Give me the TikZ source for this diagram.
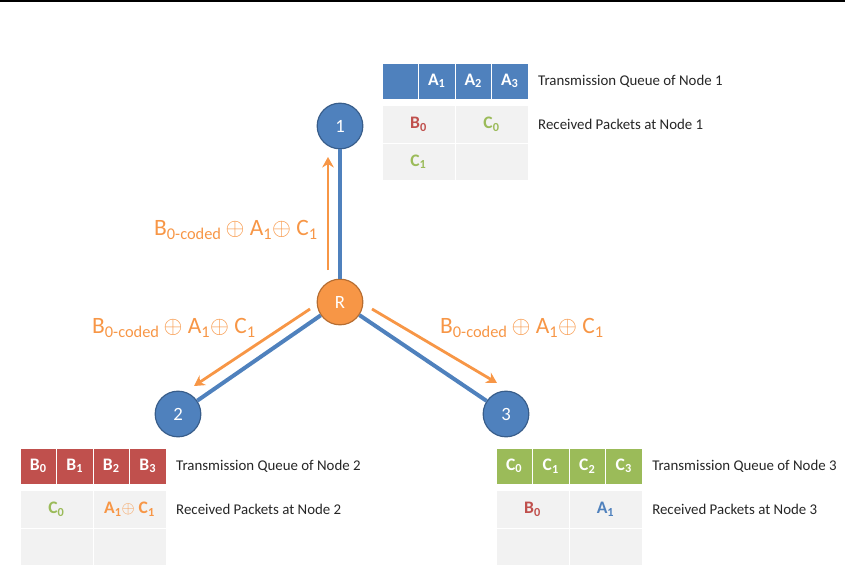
\documentclass[tikz,border=0pt]{standalone}
\usepackage{fontspec}
\setsansfont{Carlito}
\usetikzlibrary{
  positioning,
  arrows.meta
}

\definecolor{nodeblue}{RGB}{79,129,189}
\definecolor{nodeblueline}{RGB}{56,93,138}
\definecolor{relayorange}{RGB}{247,150,70}
\definecolor{relayline}{RGB}{182,109,49}
\definecolor{queuered}{RGB}{192,80,77}
\definecolor{queuegreen}{RGB}{155,187,89}
\definecolor{cellgray}{RGB}{242,242,242}
\definecolor{labeltext}{RGB}{38,38,38}

\begin{document}
\begin{tikzpicture}[x=0.03cm, y=-0.03cm, node distance=0pt, every node/.style={font=\sffamily},
  user/.style={circle, draw=nodeblueline, line width=1pt, fill=nodeblue, minimum size=1.37cm, text=white, font=\sffamily\fontsize{16}{19}\selectfont},
  relay/.style={user, draw=relayline, fill=relayorange},
  link/.style={nodeblue, line width=3.4pt},
  coded/.style={-{Stealth[length=9pt, width=10pt, inset=3pt]}, relayorange, line width=2.4pt},
  codedtext/.style={text=relayorange, font=\sffamily\fontsize{20}{24}\selectfont},
  queue/.style={draw=white, line width=0.8pt, outer sep=0pt, inner sep=0pt, minimum width=1.095cm, minimum height=1.08cm, text=white, font=\sffamily\bfseries\fontsize{15}{18}\selectfont},
  recv/.style={draw=white, line width=0.8pt, outer sep=0pt, inner sep=0pt, fill=cellgray, minimum width=2.19cm, minimum height=1.12cm, font=\sffamily\bfseries\fontsize{15}{18}\selectfont},
  caption/.style={text=labeltext, inner sep=0pt, font=\sffamily\fontsize{12.7}{15}\selectfont}
]
\useasboundingbox (0,0) rectangle (845,569);

% Rule along the top
\draw[line width=1.3pt] (0,0.75) -- (845,0.75);

% Nodes
\node[user] (n1) at (340,126) {1};
\node[relay] (R) at (340,302) {R};
\node[user] (n2) at (178,414) {2};
\node[user] (n3) at (506,414) {3};

% Links
\draw[link] (R) -- (n1);
\draw[link] (R) -- (n2);
\draw[link] (R) -- (n3);

% Coded broadcast from the relay
\coordinate (c1s) at (328,270);
\coordinate (c1e) at (328,157);
\coordinate (c2s) at (310,309);
\coordinate (c2e) at (194,386);
\coordinate (c3s) at (372,309);
\coordinate (c3e) at (497,383);
\draw[coded] (c1s) -- (c1e);
\draw[coded] (c2s) -- (c2e);
\draw[coded] (c3s) -- (c3e);
\node[codedtext] (l1) at (236,230) {B\textsubscript{0-coded}\,$\oplus$ A\textsubscript{1}$\oplus$ C\textsubscript{1}};
\node[codedtext] (l2) at (174,328) {B\textsubscript{0-coded}\,$\oplus$ A\textsubscript{1}$\oplus$ C\textsubscript{1}};
\node[codedtext] (l3) at (522,328) {B\textsubscript{0-coded}\,$\oplus$ A\textsubscript{1}$\oplus$ C\textsubscript{1}};

% Node 1 tables
\node[queue, fill=nodeblue] (q1a) at (400.25,81) {};
\node[queue, fill=nodeblue, right=of q1a] (q1b) {A\textsubscript{1}};
\node[queue, fill=nodeblue, right=of q1b] (q1c) {A\textsubscript{2}};
\node[queue, fill=nodeblue, right=of q1c] (q1d) {A\textsubscript{3}};
\node[recv, below right=0.2cm and 0pt of q1a.south west] (r1a) {\textcolor{queuered}{B\textsubscript{0}}};
\node[recv, right=of r1a] (r1b) {\textcolor{queuegreen}{C\textsubscript{0}}};
\node[recv, below=of r1a] (r1c) {\textcolor{queuegreen}{C\textsubscript{1}}};
\node[recv, right=of r1c] (r1d) {};
\node[caption, right=0.3cm of q1d] (t1) {Transmission Queue of Node 1};
\node[caption, right=0.3cm of r1b] (p1) {Received Packets at Node 1};

% Node 2 tables
\node[queue, fill=queuered] (q2a) at (38.25,466) {B\textsubscript{0}};
\node[queue, fill=queuered, right=of q2a] (q2b) {B\textsubscript{1}};
\node[queue, fill=queuered, right=of q2b] (q2c) {B\textsubscript{2}};
\node[queue, fill=queuered, right=of q2c] (q2d) {B\textsubscript{3}};
\node[recv, below right=0.2cm and 0pt of q2a.south west] (r2a) {\textcolor{queuegreen}{C\textsubscript{0}}};
\node[recv, right=of r2a] (r2b) {\textcolor{relayorange}{A\textsubscript{1}$\oplus$ C\textsubscript{1}}};
\node[recv, below=of r2a] (r2c) {};
\node[recv, right=of r2c] (r2d) {};
\node[caption, right=0.3cm of q2d] (t2) {Transmission Queue of Node 2};
\node[caption, right=0.3cm of r2b] (p2) {Received Packets at Node 2};

% Node 3 tables
\node[queue, fill=queuegreen] (q3a) at (514.25,466) {C\textsubscript{0}};
\node[queue, fill=queuegreen, right=of q3a] (q3b) {C\textsubscript{1}};
\node[queue, fill=queuegreen, right=of q3b] (q3c) {C\textsubscript{2}};
\node[queue, fill=queuegreen, right=of q3c] (q3d) {C\textsubscript{3}};
\node[recv, below right=0.2cm and 0pt of q3a.south west] (r3a) {\textcolor{queuered}{B\textsubscript{0}}};
\node[recv, right=of r3a] (r3b) {\textcolor{nodeblue}{A\textsubscript{1}}};
\node[recv, below=of r3a] (r3c) {};
\node[recv, right=of r3c] (r3d) {};
\node[caption, right=0.3cm of q3d] (t3) {Transmission Queue of Node 3};
\node[caption, right=0.3cm of r3b] (p3) {Received Packets at Node 3};

\end{tikzpicture}
\end{document}
